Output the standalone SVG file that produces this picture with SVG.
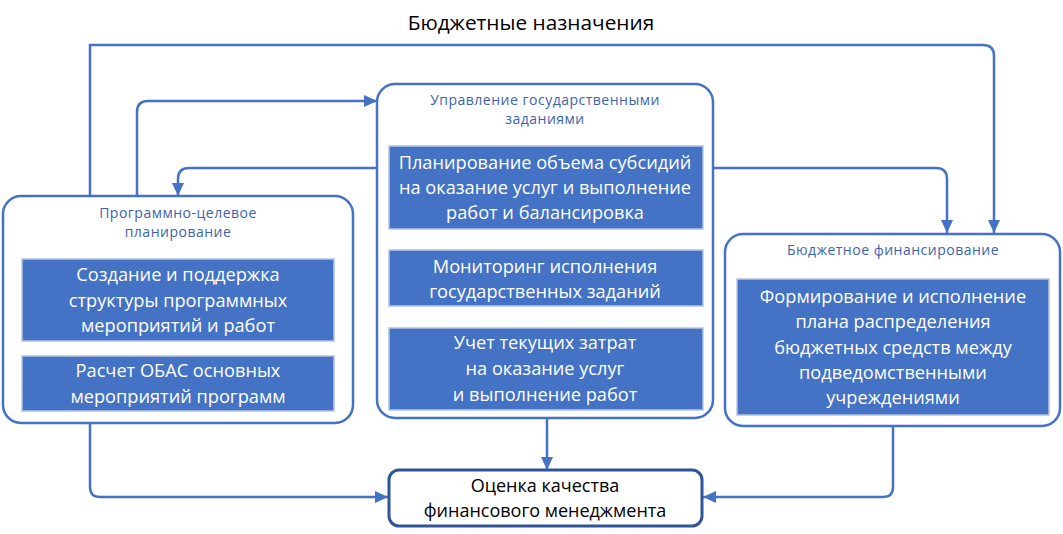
<svg xmlns="http://www.w3.org/2000/svg" width="1063" height="534" viewBox="0 0 1063 534">
<style>
.cont{fill:#fff;stroke:#4472C4;stroke-width:2.5}
.inner{fill:#4472C4;stroke:#B4C3E3;stroke-width:1.5}
.ct{font-family:"Open Sans","Noto Sans",sans-serif;font-size:14px;fill:#3E63AE;text-anchor:middle;letter-spacing:0.5px}
.it{font-family:"Open Sans","Noto Sans",sans-serif;font-size:18.2px;fill:#fff;text-anchor:middle}
.bt{font-family:"Open Sans","Noto Sans",sans-serif;font-size:18px;fill:#000;text-anchor:middle}
.con{fill:none;stroke:#4472C4;stroke-width:2.5}
</style>
<defs>
<marker id="arr" markerUnits="userSpaceOnUse" markerWidth="14" markerHeight="14" viewBox="0 0 14 14" refX="13" refY="7" orient="auto">
<path d="M0,1 L13,7 L0,13 Z" fill="#4472C4"/>
</marker>
</defs>
<rect width="1063" height="534" fill="#fff"/>
<text x="531" y="30" font-family="Open Sans, Noto Sans, sans-serif" font-size="20.8" text-anchor="middle" fill="#000">Бюджетные назначения</text>

<g id="connectors">
<path class="con" d="M90,196 V45 H983 Q994,45 994,56 V233" marker-end="url(#arr)"/>
<path class="con" d="M137,196 V112 Q137,101 148,101 H377" marker-end="url(#arr)"/>
<path class="con" d="M377,168 H189 Q178,168 178,179 V196" marker-end="url(#arr)"/>
<path class="con" d="M713,168 H936 Q947,168 947,179 V233" marker-end="url(#arr)"/>
<path class="con" d="M547,418 V470" marker-end="url(#arr)"/>
<path class="con" d="M90,424 V487 Q90,497 100,497 H388" marker-end="url(#arr)"/>
<path class="con" d="M893,427 V487 Q893,497 883,497 H703" marker-end="url(#arr)"/>
</g>

<g id="program">
<rect class="cont" x="3" y="196" width="350" height="227" rx="18"/>
<text class="ct" x="178" y="218">Программно-целевое</text>
<text class="ct" x="178" y="237">планирование</text>
<rect class="inner" x="22" y="259" width="312" height="82"/>
<text class="it" x="178" y="281">Создание и поддержка</text>
<text class="it" x="178" y="307">структуры программных</text>
<text class="it" x="178" y="332">мероприятий и работ</text>
<rect class="inner" x="22" y="356" width="312" height="55"/>
<text class="it" x="178" y="377">Расчет ОБАС основных</text>
<text class="it" x="178" y="403">мероприятий программ</text>
</g>

<g id="tasks">
<rect class="cont" x="377" y="84" width="336" height="334" rx="18"/>
<text class="ct" x="545" y="105">Управление государственными</text>
<text class="ct" x="545" y="124">заданиями</text>
<rect class="inner" x="389" y="146" width="314" height="83"/>
<text class="it" x="545" y="169">Планирование объема субсидий</text>
<text class="it" x="545" y="194">на оказание услуг и выполнение</text>
<text class="it" x="545" y="219">работ и балансировка</text>
<rect class="inner" x="389" y="250" width="314" height="56"/>
<text class="it" x="545" y="273">Мониторинг исполнения</text>
<text class="it" x="545" y="298">государственных заданий</text>
<rect class="inner" x="389" y="328" width="314" height="82"/>
<text class="it" x="545" y="349">Учет текущих затрат</text>
<text class="it" x="545" y="375">на оказание услуг</text>
<text class="it" x="545" y="401">и выполнение работ</text>
</g>

<g id="finance">
<rect class="cont" x="725" y="234" width="335" height="192" rx="18"/>
<text class="ct" x="893" y="255">Бюджетное финансирование</text>
<rect class="inner" x="737" y="279" width="312" height="136"/>
<text class="it" x="893" y="303">Формирование и исполнение</text>
<text class="it" x="893" y="328">плана распределения</text>
<text class="it" x="893" y="354">бюджетных средств между</text>
<text class="it" x="893" y="379">подведомственными</text>
<text class="it" x="893" y="404">учреждениями</text>
</g>

<g id="quality">
<rect x="389" y="470" width="313" height="56" rx="10" fill="#fff" stroke="#2F5597" stroke-width="3"/>
<text class="bt" x="545" y="492">Оценка качества</text>
<text class="bt" x="545" y="517">финансового менеджмента</text>
</g>
</svg>
